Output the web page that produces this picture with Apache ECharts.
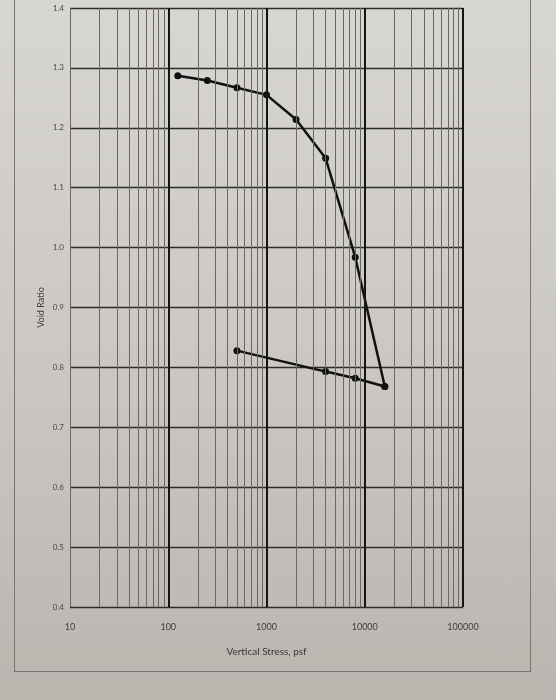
<!DOCTYPE html>
<html>
<head>
<meta charset="utf-8">
<script src="https://cdn.jsdelivr.net/npm/echarts@6/dist/echarts.min.js"></script>
<style>
  html, body { margin: 0; padding: 0; }
  body {
    width: 556px; height: 700px;
    background: linear-gradient(180deg, #d8d6d2 0%, #cac7c2 55%, #b9b6b0 100%);
    position: relative; overflow: hidden;
  }
  #page {
    position: absolute; left: 14px; top: -20px; width: 515px; height: 690px;
    border: 1px solid #77736d;
  }
  #chart { position: absolute; left: 0; top: 0; width: 556px; height: 700px; }
</style>
</head>
<body>
<div id="page"></div>
<div id="chart"></div>
<script>
// loading curve (psf, void ratio)
var loadStress = [125, 250, 500, 1000, 2000, 4000, 8000, 16000];
var loadVoid = [1.287, 1.279, 1.267, 1.255, 1.214, 1.149, 0.984, 0.768];
// unloading curve
var unloadStress = [16000, 8000, 4000, 500];
var unloadVoid = [0.768, 0.782, 0.793, 0.828];

var xTicks = [10, 100, 1000, 10000, 100000];
var decades = [10, 100, 1000, 10000];
var minorSteps = [2, 3, 4, 5, 6, 7, 8, 9];

var minorLines = [{ xAxis: 10 }];
decades.forEach(function (d) {
  minorSteps.forEach(function (m) { minorLines.push({ xAxis: d * m }); });
});
var majorLines = xTicks.slice(1).map(function (v) { return { xAxis: v }; });

function pairs(xs, ys) {
  return xs.map(function (x, i) { return [x, ys[i]]; });
}

var myChart = echarts.init(document.getElementById('chart'));
myChart.setOption({
  animation: false,
  textStyle: { fontFamily: 'Lato' },
  grid: { left: 70, right: 93, top: 8, bottom: 93 },
  xAxis: {
    type: 'log',
    logBase: 10,
    min: 10,
    max: 100000,
    name: 'Vertical Stress, psf',
    nameLocation: 'middle',
    nameGap: 40,
    nameTextStyle: { color: '#3a3835', fontSize: 10 },
    axisLine: { show: false },
    axisTick: { show: false },
    axisLabel: {
      color: '#3f3d3a', fontSize: 9, margin: 16,
      formatter: function (v) { return String(Math.round(v)); }
    },
    splitLine: { show: false }
  },
  yAxis: {
    type: 'value',
    min: 0.4,
    max: 1.4,
    interval: 0.1,
    name: 'Void Ratio',
    nameLocation: 'middle',
    nameGap: 24,
    nameMoveOverlap: false,
    nameTextStyle: { color: '#3f3d3a', fontSize: 9 },
    axisLine: { show: false },
    axisTick: { show: false },
    axisLabel: {
      color: '#4a4845', fontSize: 8, margin: 6,
      formatter: function (v) { return v.toFixed(1); }
    },
    splitLine: { lineStyle: { color: '#2e2c2a', width: 1.4 } }
  },
  series: [
    {
      name: 'grid',
      type: 'line',
      data: [],
      silent: true,
      markLine: {
        silent: true,
        symbol: 'none',
        label: { show: false },
        lineStyle: { color: '#6b6864', width: 1, type: 'solid' },
        data: minorLines
      }
    },
    {
      name: 'grid2',
      type: 'line',
      data: [],
      silent: true,
      markLine: {
        silent: true,
        symbol: 'none',
        label: { show: false },
        lineStyle: { color: '#151515', width: 2, type: 'solid' },
        data: majorLines
      }
    },
    {
      name: 'loading',
      type: 'line',
      data: pairs(loadStress, loadVoid),
      symbol: 'circle',
      symbolSize: 7,
      lineStyle: { color: '#111', width: 2.5 },
      itemStyle: { color: '#111' }
    },
    {
      name: 'unloading',
      type: 'line',
      data: pairs(unloadStress, unloadVoid),
      symbol: 'circle',
      symbolSize: 7,
      lineStyle: { color: '#111', width: 2.5 },
      itemStyle: { color: '#111' }
    }
  ]
});
</script>
</body>
</html>
